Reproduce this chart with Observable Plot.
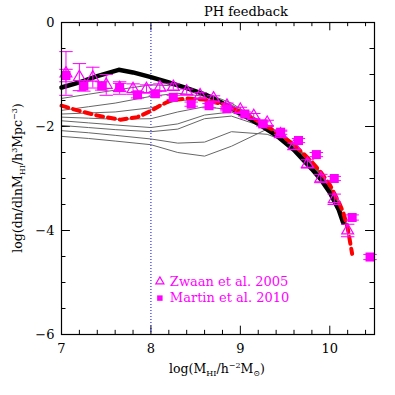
<!DOCTYPE html>
<html><head><meta charset="utf-8">
<script src="https://cdn.jsdelivr.net/npm/d3@7"></script>
<script src="https://cdn.jsdelivr.net/npm/@observablehq/plot@0.6"></script>
<style>body{margin:0;background:#fff} #chart svg text{font-family:"DejaVu Serif",serif}</style>
</head><body><div id="chart"></div>
<script>
// ---- data ----
const title = "PH feedback";
const xTicks = [7, 8, 9, 10];
const yTicks = [0, -2, -4, -6];
const xMinor = [7.2,7.4,7.6,7.8,8.2,8.4,8.6,8.8,9.2,9.4,9.6,9.8,10.2,10.4];
const yMinor = [-0.5,-1,-1.5,-2.5,-3,-3.5,-4.5,-5,-5.5];
const mRes = 8; // resolution limit (dotted line)

const modelX = [7.0, 7.2, 7.4, 7.64, 7.8, 8.0, 8.2, 8.4, 8.6, 8.8, 9.0, 9.2, 9.4, 9.6, 9.8, 9.9, 10.0, 10.1, 10.15];
const modelY = [-1.25, -1.15, -1.03, -0.91, -0.96, -1.05, -1.15, -1.26, -1.38, -1.55, -1.75, -1.95, -2.17, -2.45, -2.82, -3.02, -3.27, -3.6, -3.85];

const fbX = [7.0, 7.2, 7.4, 7.66, 7.85, 8.0, 8.1, 8.22, 8.4, 8.6, 8.8, 9.0, 9.2, 9.4, 9.6, 9.8, 9.9, 10.0, 10.1, 10.15, 10.2, 10.25];
const fbY = [-1.6, -1.7, -1.79, -1.87, -1.82, -1.70, -1.60, -1.50, -1.46, -1.48, -1.57, -1.72, -1.90, -2.1, -2.35, -2.68, -2.88, -3.12, -3.45, -3.65, -3.95, -4.45];

const greyX = [7.0, 7.3, 7.6, 8.0, 8.3, 8.6, 8.9, 9.3, 9.5, 9.7, 9.9, 10.05, 10.2];
const grey1 = [-1.46, -1.38, -1.30, -1.20, -1.22, -1.35, -1.55, -1.98, -2.18, -2.50, -2.88, -3.28, -3.92];
const grey2 = [-1.69, -1.62, -1.55, -1.42, -1.36, -1.42, -1.58, -1.99, -2.20, -2.52, -2.90, -3.30, -3.94];
const grey3 = [-1.76, -1.74, -1.72, -1.64, -1.50, -1.48, -1.60, -2.00, -2.20, -2.52, -2.90, -3.30, -3.95];
const grey4 = [-1.82, -1.84, -1.86, -1.85, -1.72, -1.62, -1.68, -2.01, -2.21, -2.53, -2.91, -3.31, -3.95];
const grey5 = [-1.89, -1.93, -1.97, -2.02, -1.95, -1.78, -1.72, -2.02, -2.22, -2.54, -2.92, -3.32, -3.96];
const grey6 = [-1.98, -2.02, -2.06, -2.10, -2.05, -1.85, -1.80, -2.03, -2.24, -2.55, -2.93, -3.33, -3.97];
const grey7 = [-2.08, -2.12, -2.17, -2.24, -2.32, -2.30, -2.10, -2.15, -2.28, -2.56, -2.94, -3.34, -3.98];
const grey8 = [-2.19, -2.23, -2.28, -2.35, -2.50, -2.57, -2.38, -2.05, -2.30, -2.57, -2.95, -3.35, -4.00];
const greys = [grey1, grey2, grey3, grey4, grey5, grey6, grey7, grey8];

const zwaanX = [7.05, 7.20, 7.35, 7.50, 7.65, 7.80, 7.95, 8.10, 8.25, 8.40, 8.55, 8.70, 8.85, 9.00, 9.15, 9.30, 9.45, 9.60, 9.75, 9.90, 10.05, 10.20];
const zwaanY = [-0.98, -1.05, -1.06, -1.20, -1.26, -1.28, -1.28, -1.25, -1.24, -1.33, -1.40, -1.46, -1.60, -1.68, -1.80, -1.93, -2.15, -2.38, -2.72, -3.00, -3.40, -4.00];
const zwaanE = [0.42, 0.26, 0.20, 0.20, 0.12, 0.10, 0.08, 0.07, 0.06, 0.05, 0.05, 0.05, 0.05, 0.05, 0.05, 0.05, 0.06, 0.06, 0.08, 0.08, 0.10, 0.12];

const martinX = [7.05, 7.25, 7.45, 7.65, 7.85, 8.05, 8.25, 8.45, 8.65, 8.85, 9.05, 9.25, 9.45, 9.65, 9.85, 10.05, 10.25, 10.45];
const martinY = [-1.02, -1.22, -1.22, -1.25, -1.39, -1.37, -1.44, -1.57, -1.60, -1.66, -1.76, -1.95, -2.11, -2.27, -2.54, -3.00, -3.75, -4.51];
const martinE = [0.12, 0.10, 0.08, 0.08, 0.06, 0.04, 0.04, 0.04, 0.04, 0.04, 0.04, 0.04, 0.04, 0.04, 0.04, 0.04, 0.05, 0.05];

const legendLabels = ["Zwaan et al. 2005", "Martin et al. 2010"];

// ---- tables ----
const model = modelX.map((x, i) => ({x, y: modelY[i]}));
const fb = fbX.map((x, i) => ({x, y: fbY[i]}));
const greyRows = greys.flatMap((ys, k) => greyX.map((x, i) => ({k, x, y: ys[i]})));
const zwaan = zwaanX.map((x, i) => ({x, y: zwaanY[i], e: zwaanE[i]}));
const martin = martinX.map((x, i) => ({x, y: martinY[i], e: martinE[i]}));
const legend = [
  {sym: "triangle", label: legendLabels[0], x: 8.1, y: -4.98, fill: "none"},
  {sym: "square", label: legendLabels[1], x: 8.1, y: -5.30, fill: "#ff00ff"}
];

const mag = "#ff00ff";
const cap = 0.075;
const font = "DejaVu Serif";
const fmt = d => (d < 0 ? "\u2212" : "") + Math.abs(d);

const chart = Plot.plot({
  width: 395, height: 395,
  marginLeft: 61, marginRight: 21, marginTop: 22, marginBottom: 61,
  style: {fontFamily: font, fontSize: "13px", color: "#000", background: "#fff"},
  x: {domain: [7, 10.5]},
  y: {domain: [-6, 0]},
  marks: [
    Plot.axisX({ticks: xTicks, tickSize: 0, tickPadding: 9, label: null, fontSize: 13, tickFormat: fmt}),
    Plot.axisY({ticks: yTicks, tickSize: 0, tickPadding: 7, label: null, fontSize: 13, tickFormat: fmt}),
    // inward ticks
    Plot.ruleX(xTicks, {x: d => d, y1: -6, y2: -5.84, stroke: "#000"}),
    Plot.ruleX(xMinor, {x: d => d, y1: -6, y2: -5.92, stroke: "#000"}),
    Plot.ruleX(xTicks, {x: d => d, y1: 0, y2: -0.16, stroke: "#000"}),
    Plot.ruleX(xMinor, {x: d => d, y1: 0, y2: -0.08, stroke: "#000"}),
    Plot.ruleY(yTicks, {y: d => d, x1: 7, x2: 7.1, stroke: "#000"}),
    Plot.ruleY(yMinor, {y: d => d, x1: 7, x2: 7.05, stroke: "#000"}),
    Plot.ruleY(yTicks, {y: d => d, x1: 10.5, x2: 10.4, stroke: "#000"}),
    Plot.ruleY(yMinor, {y: d => d, x1: 10.5, x2: 10.45, stroke: "#000"}),
    Plot.ruleX([mRes], {x: d => d, stroke: "blue", strokeDasharray: "1,2", strokeWidth: 1}),
    Plot.line(greyRows, {x: "x", y: "y", z: "k", stroke: "#666", strokeWidth: 1}),
    Plot.line(model, {x: "x", y: "y", stroke: "#000", strokeWidth: 4.5}),
    Plot.line(fb, {x: "x", y: "y", stroke: "#ff0000", strokeWidth: 4, strokeDasharray: "7,5"}),
    // error bars
    Plot.ruleX(martin, {x: "x", y1: d => d.y - d.e, y2: d => d.y + d.e, stroke: mag}),
    Plot.link(martin, {x1: d => d.x - cap, x2: d => d.x + cap, y1: d => d.y + d.e, y2: d => d.y + d.e, stroke: mag}),
    Plot.link(martin, {x1: d => d.x - cap, x2: d => d.x + cap, y1: d => d.y - d.e, y2: d => d.y - d.e, stroke: mag}),
    Plot.dot(martin, {x: "x", y: "y", symbol: "square", r: 5.1, fill: mag, stroke: "none"}),
    Plot.ruleX(zwaan, {x: "x", y1: d => d.y - d.e, y2: d => d.y + d.e, stroke: mag}),
    Plot.link(zwaan, {x1: d => d.x - cap, x2: d => d.x + cap, y1: d => d.y + d.e, y2: d => d.y + d.e, stroke: mag}),
    Plot.link(zwaan, {x1: d => d.x - cap, x2: d => d.x + cap, y1: d => d.y - d.e, y2: d => d.y - d.e, stroke: mag}),
    Plot.dot(zwaan, {x: "x", y: "y", symbol: "triangle", r: 4.4, fill: "none", stroke: mag, strokeWidth: 1.2}),
    // legend
    Plot.dot(legend, {x: "x", y: "y", symbol: "sym", r: d => d.sym === "square" ? 5.1 : 4.8, fill: "fill", stroke: d => d.sym === "square" ? "none" : mag, strokeWidth: 1.2}),
    Plot.text(legend, {x: "x", y: "y", text: "label", dx: 10, textAnchor: "start", fill: mag, fontSize: 13, fontFamily: font}),
    Plot.frame({stroke: "#000", strokeWidth: 1.2})
  ]
});

const svg = d3.select(chart);
svg.append("text").attr("x", 204).attr("y", 16).attr("text-anchor", "start").attr("font-family", font).attr("font-size", 13)
  .attr("fill", "#000").text(title);

// y label
const yl = svg.append("text").attr("transform", "translate(22,178) rotate(-90)")
  .attr("text-anchor", "middle").attr("font-family", font).attr("font-size", 12.5).attr("fill", "#000");
yl.append("tspan").text("log(dn/dlnM");
yl.append("tspan").attr("font-size", 8).attr("dy", 3).text("HI");
yl.append("tspan").attr("dy", -3).text("/h");
yl.append("tspan").attr("font-size", 8).attr("dy", -5).text("3");
yl.append("tspan").attr("dy", 5).text("Mpc");
yl.append("tspan").attr("font-size", 8).attr("dy", -5).text("\u22123");
yl.append("tspan").attr("dy", 5).text(")");

// x label
const xl = svg.append("text").attr("x", 217).attr("y", 373)
  .attr("text-anchor", "middle").attr("font-family", font).attr("font-size", 12.5).attr("fill", "#000");
xl.append("tspan").text("log(M");
xl.append("tspan").attr("font-size", 8).attr("dy", 3).text("HI");
xl.append("tspan").attr("dy", -3).text("/h");
xl.append("tspan").attr("font-size", 8).attr("dy", -5).text("\u22122");
xl.append("tspan").attr("dy", 5).text("M");
xl.append("tspan").attr("font-size", 8).attr("dy", 3).text("\u2299");
xl.append("tspan").attr("dy", -3).text(")");

document.getElementById("chart").append(chart);
</script></body></html>
